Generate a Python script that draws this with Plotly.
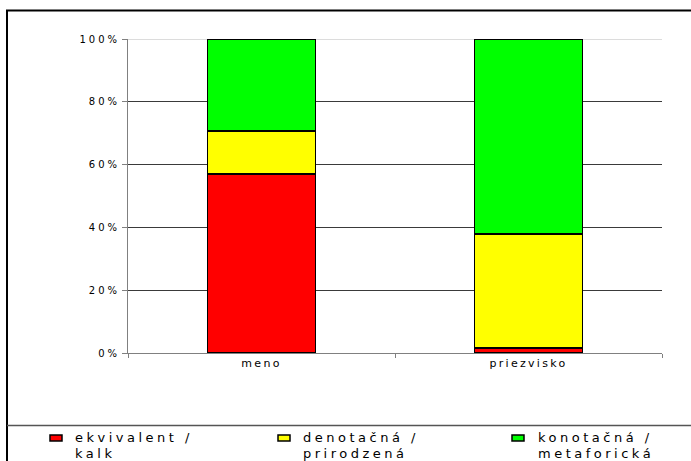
import plotly.graph_objects as go

# Data
categories = ["meno", "priezvisko"]
series_names = [["ekvivalent /", "kalk"],
                ["denotačná /", "prirodzená"],
                ["konotačná /", "metaforická"]]
ekvivalent = [57.1, 1.6]
denotacna = [13.5, 36.3]
konotacna = [29.4, 62.1]
tick_values = [0, 20, 40, 60, 80, 100]
tick_labels = ["0%", "20%", "40%", "60%", "80%", "100%"]

colors = ["#FF0000", "#FFFF00", "#00FF00"]
series_values = [ekvivalent, denotacna, konotacna]

W, H = 691, 461
ML, MR, MT, MB = 128, 29, 39, 108
PW, PH = W - ML - MR, H - MT - MB
FONT = "DejaVu Sans"


def px(x):
    return (x - ML) / PW


def py(y):
    return (H - MB - y) / PH


def wide(text, spacing):
    # widen the lettering to the broad look of the original chart font
    return f'<span style="letter-spacing:{spacing}px">{text}</span>'


fig = go.Figure()
for name, vals, col in zip(series_names, series_values, colors):
    fig.add_trace(go.Bar(
        x=categories, y=vals, name=" ".join(name), width=0.405,
        marker=dict(color=col, line=dict(color="black", width=1.8)),
        showlegend=False,
    ))

fig.update_layout(
    width=W, height=H,
    margin=dict(l=ML, r=MR, t=MT, b=MB),
    barmode="stack",
    paper_bgcolor="white", plot_bgcolor="white",
    font=dict(family=FONT, color="black"),
    xaxis=dict(
        showline=True, linecolor="#808080", linewidth=1,
        ticks="outside", tickson="boundaries", ticklen=4, tickcolor="#808080",
        tickvals=categories, ticktext=[wide(c, 2.3) for c in categories],
        tickfont=dict(size=11, family=FONT), showgrid=False,
        range=[-0.5, 1.5],
    ),
    yaxis=dict(
        range=[0, 100], tickvals=tick_values,
        ticktext=[wide(t, 3) for t in tick_labels],
        showline=True, linecolor="#808080", linewidth=1,
        ticks="outside", ticklen=5, tickcolor="#808080",
        tickfont=dict(size=10, family=FONT),
        showgrid=True, gridcolor="#3a3a3a", gridwidth=1,
        zeroline=False,
    ),
)

shapes = []
# outer frame (runs off the right and bottom edges)
shapes.append(dict(type="rect", xref="paper", yref="paper",
                   x0=px(7), x1=px(W + 10), y0=py(H + 10), y1=py(10.5),
                   line=dict(color="black", width=2), layer="below"))
# divider above the legend
shapes.append(dict(type="line", xref="paper", yref="paper",
                   x0=px(7), x1=px(W + 10), y0=py(425.5), y1=py(425.5),
                   line=dict(color="#555555", width=1.5)))
# lighter top gridline
shapes.append(dict(type="line", xref="x domain", yref="y",
                   x0=0, x1=1, y0=100, y1=100, layer="below",
                   line=dict(color="#d0d0d0", width=1.5)))

legend_marker_x = [50, 278, 512]
legend_text_x = [74, 302, 537]
line_centers = [437, 453.5]
annotations = []
for lines, col, mx, tx in zip(series_names, colors, legend_marker_x, legend_text_x):
    shapes.append(dict(type="rect", xref="paper", yref="paper",
                       x0=px(mx), x1=px(mx + 12), y0=py(441), y1=py(435),
                       fillcolor=col, line=dict(color="black", width=1.5)))
    for line, cy in zip(lines, line_centers):
        annotations.append(dict(xref="paper", yref="paper", x=px(tx - 1), y=py(cy),
                                xanchor="left", yanchor="middle", align="left",
                                showarrow=False, text=wide(line, 3.5),
                                font=dict(size=13, family=FONT, color="black")))

fig.update_layout(shapes=shapes, annotations=annotations)
fig.write_html("out.html")
